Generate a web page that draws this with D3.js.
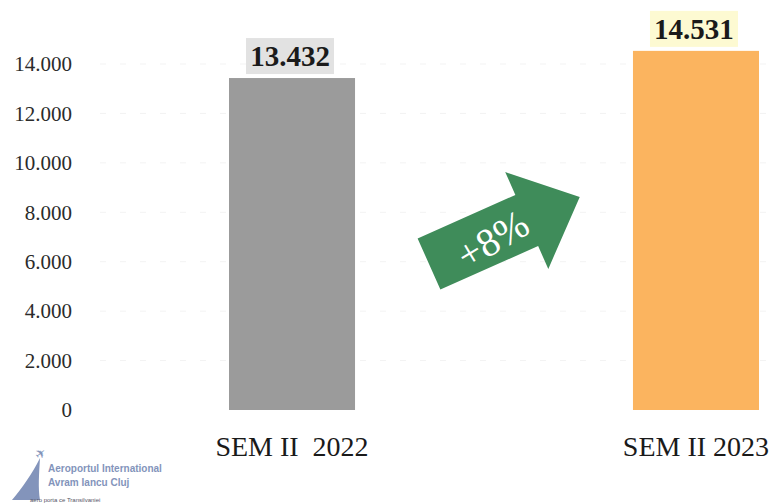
<!DOCTYPE html>
<html>
<head>
<meta charset="utf-8">
<script src="https://cdn.jsdelivr.net/npm/d3@7"></script>
<style>
  body { margin: 0; background: #fff; }
  svg { display: block; font-family: "Liberation Serif", "Times New Roman", serif; }
</style>
</head>
<body>
<svg width="776" height="504"></svg>
<script>
// data
var categories = ["SEM II  2022", "SEM II 2023"];
var values = [13432, 14531];
var yTicks = [0, 2000, 4000, 6000, 8000, 10000, 12000, 14000];
var barColors = ["#9b9b9b", "#fbb45f"];
var labelBoxColors = ["#e2e2e2", "#fdfad2"];
var changeLabel = "+8%";

var svg = d3.select("svg");

// romanian style numbers, 14.000
var ro = d3.formatLocale({decimal: ",", thousands: ".", grouping: [3], currency: ["", ""]});
var fmt = ro.format(",d");

var y = d3.scaleLinear().domain([0, 14000]).range([410, 64]);
var x = d3.scaleBand().domain(categories).range([229, 759]).paddingInner(0.688).paddingOuter(0);

// faint dashed gridlines
svg.append("g")
    .selectAll("line")
    .data(yTicks.slice(1))
    .enter().append("line")
    .attr("x1", 100).attr("x2", 776)
    .attr("y1", function(d) { return y(d); })
    .attr("y2", function(d) { return y(d); })
    .attr("stroke", "#f3f3f3")
    .attr("stroke-dasharray", "6,14");

// y axis, labels only
var yAxis = svg.append("g")
    .attr("transform", "translate(72,0)")
    .call(d3.axisLeft(y).tickValues(yTicks).tickFormat(fmt).tickSize(0).tickPadding(0));
yAxis.select(".domain").remove();
yAxis.selectAll("text")
    .attr("font-family", "Liberation Serif")
    .attr("font-size", 21)
    .attr("fill", "#2b2b2b");

// bars
svg.selectAll(".bar")
    .data(values)
    .enter().append("rect")
    .attr("class", "bar")
    .attr("x", function(d, i) { return x(categories[i]); })
    .attr("width", x.bandwidth())
    .attr("y", function(d) { return y(d); })
    .attr("height", function(d) { return y(0) - y(d); })
    .attr("fill", function(d, i) { return barColors[i]; });

// value labels with background box
var vl = svg.selectAll(".vlabel")
    .data(values)
    .enter().append("g")
    .attr("class", "vlabel")
    .attr("transform", function(d, i) {
        return "translate(" + (x(categories[i]) + x.bandwidth() / 2 - 2) + "," + y(d) + ")";
    });
vl.append("rect")
    .attr("x", -44).attr("y", -40)
    .attr("width", 88).attr("height", 36)
    .attr("fill", function(d, i) { return labelBoxColors[i]; });
vl.append("text")
    .attr("text-anchor", "middle")
    .attr("y", -12)
    .attr("font-size", 29)
    .attr("font-weight", "bold")
    .attr("fill", "#1a1a1a")
    .text(function(d) { return fmt(d); });

// category labels
svg.selectAll(".cat")
    .data(categories)
    .enter().append("text")
    .attr("class", "cat")
    .attr("x", function(d) { return x(d) + x.bandwidth() / 2; })
    .attr("y", 456)
    .attr("text-anchor", "middle")
    .attr("font-size", 28)
    .attr("fill", "#1a1a1a")
    .style("white-space", "pre")
    .text(function(d) { return d; });

// green arrow with the change
var arrow = svg.append("g").attr("transform", "translate(429,264) rotate(-24)");
arrow.append("path")
    .attr("d", "M0,-28 L107,-28 L107,-53 L165,0 L107,53 L107,28 L0,28 Z")
    .attr("fill", "#3f8c5a");
arrow.append("text")
    .attr("transform", "translate(68,3) rotate(-7)")
    .attr("text-anchor", "middle")
    .attr("dy", "0.35em")
    .attr("font-family", "Liberation Serif")
    .attr("font-size", 40)
    .attr("fill", "#fff")
    .text(changeLabel);

// airport logo, bottom left
var logo = svg.append("g").attr("fill", "#8394bb");
logo.append("path")
    .attr("d", "M12,500 C22,488 32,474 40,458 C39,474 38,488 40,500 Z");
logo.append("text")
    .attr("x", 34).attr("y", 458)
    .attr("font-family", "DejaVu Sans")
    .attr("font-size", 13)
    .attr("transform", "rotate(-40,40,452)")
    .text("\u2708");
logo.append("text")
    .attr("x", 48).attr("y", 472)
    .attr("font-family", "Liberation Sans Narrow, Liberation Sans")
    .attr("font-size", 10).attr("font-weight", "bold")
    .text("Aeroportul International");
logo.append("text")
    .attr("x", 48).attr("y", 486)
    .attr("font-family", "Liberation Sans Narrow, Liberation Sans")
    .attr("font-size", 10).attr("font-weight", "bold")
    .text("Avram Iancu Cluj");
logo.append("text")
    .attr("x", 30).attr("y", 502)
    .attr("font-family", "Liberation Sans")
    .attr("font-size", 6)
    .attr("fill", "#556")
    .text("aero porta ce Transilvaniei");
</script>
</body>
</html>
